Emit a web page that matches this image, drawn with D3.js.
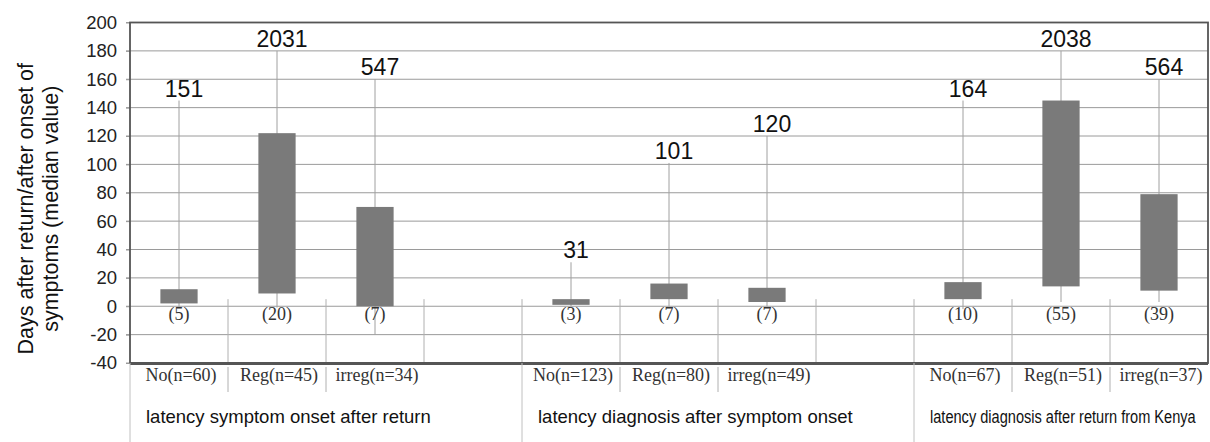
<!DOCTYPE html>
<html>
<head>
<meta charset="utf-8">
<script src="https://cdn.jsdelivr.net/npm/d3@7"></script>
<style>
  body { margin: 0; background: #fff; }
  svg { display: block; }
</style>
</head>
<body>
<div id="chart"></div>
<script>
// groups of the x axis
const groups = ["latency symptom onset after return", "latency diagnosis after symptom onset", "latency diagnosis after return from Kenya"];
const categories = [
    ["No(n=60)", "Reg(n=45)", "irreg(n=34)"],
    ["No(n=123)", "Reg(n=80)", "irreg(n=49)"],
    ["No(n=67)", "Reg(n=51)", "irreg(n=37)"]
];
// box = interquartile range, in days
const boxLow = [2, 9, 0, 1, 5, 3, 5, 14, 11];
const boxHigh = [12, 122, 70, 5, 16, 13, 17, 145, 79];
// whisker as drawn (clipped to the axis) and the real maximum written on top
const whiskerTop = [145, 180, 160, 31, 101, 120, 145, 180, 160];
const whiskerBottom = [-1, -1, -20, 0, 0, 0, -2, 3, 3];
const maxValues = [151, 2031, 547, 31, 101, 120, 164, 2038, 564];
const medians = [5, 20, 7, 3, 7, 7, 10, 55, 39];
const yTicks = [-40, -20, 0, 20, 40, 60, 80, 100, 120, 140, 160, 180, 200];

const width = 1210, height = 442;
const margin = { top: 22.5, right: 2, bottom: 79, left: 130 };

const svg = d3.select('#chart').append('svg')
    .attr('width', width)
    .attr('height', height);

// 11 slots: 3 bars, one empty slot, 3 bars, one empty slot, 3 bars
const x = d3.scaleBand()
    .domain(d3.range(11))
    .range([margin.left, width - margin.right]);
const y = d3.scaleLinear()
    .domain([-40, 200])
    .range([height - margin.bottom, margin.top]);

const slotOf = (g, i) => g * 4 + i;
const sans = "'Liberation Sans', Arial, sans-serif";
const serif = "'Liberation Serif', 'Times New Roman', serif";

// grid
svg.append('g')
    .selectAll('line')
    .data(yTicks)
    .enter()
    .append('line')
    .attr('x1', margin.left - 4)
    .attr('x2', width - margin.right)
    .attr('y1', d => y(d))
    .attr('y2', d => y(d))
    .attr('stroke', '#9a9a9a')
    .attr('stroke-width', 1);

// y axis labels (plain hyphen for negatives, like the original)
const yAxis = svg.append('g')
    .attr('transform', `translate(${margin.left},0)`)
    .call(d3.axisLeft(y).tickValues(yTicks).tickSize(4).tickPadding(9).tickFormat(d => String(d)));
yAxis.select('.domain').remove();
yAxis.selectAll('.tick line').attr('stroke', '#9a9a9a');
yAxis.selectAll('text')
    .style('font-family', sans)
    .style('font-size', '18.5px')
    .attr('fill', '#222');

// small separators inside the plot, between slots
svg.append('g')
    .selectAll('line')
    .data(d3.range(1, 11))
    .enter()
    .append('line')
    .attr('x1', d => x(d))
    .attr('x2', d => x(d))
    .attr('y1', y(5))
    .attr('y2', y(-40))
    .attr('stroke', '#b0b0b0')
    .attr('stroke-width', 1);

// flatten the boxes
const boxes = [];
categories.forEach((cats, g) => {
    cats.forEach((c, i) => {
        const k = g * 3 + i;
        boxes.push({
            slot: slotOf(g, i), label: c,
            low: boxLow[k], high: boxHigh[k],
            wTop: whiskerTop[k], wBottom: whiskerBottom[k],
            max: maxValues[k], median: medians[k]
        });
    });
});

const cx = d => x(d.slot) + x.bandwidth() / 2;
const barW = x.bandwidth() * 0.38;

// whiskers
svg.append('g')
    .selectAll('line')
    .data(boxes)
    .enter()
    .append('line')
    .attr('x1', cx)
    .attr('x2', cx)
    .attr('y1', d => y(d.wTop))
    .attr('y2', d => y(d.wBottom))
    .attr('stroke', '#a0a0a0')
    .attr('stroke-width', 1);

// boxes
svg.append('g')
    .selectAll('rect')
    .data(boxes)
    .enter()
    .append('rect')
    .attr('x', d => cx(d) - barW / 2)
    .attr('width', barW)
    .attr('y', d => y(d.high))
    .attr('height', d => y(d.low) - y(d.high))
    .attr('fill', '#7a7a7a');

// max values on top of whiskers
svg.append('g')
    .selectAll('text')
    .data(boxes)
    .enter()
    .append('text')
    .attr('x', d => cx(d) + 5)
    .attr('y', d => y(d.wTop) - 4)
    .attr('text-anchor', 'middle')
    .style('font-family', sans)
    .style('font-size', '23px')
    .attr('fill', '#111')
    .text(d => d.max);

// medians under the boxes
svg.append('g')
    .selectAll('text')
    .data(boxes)
    .enter()
    .append('text')
    .attr('x', cx)
    .attr('y', y(-10))
    .attr('text-anchor', 'middle')
    .style('font-family', serif)
    .style('font-size', '18px')
    .attr('fill', '#333')
    .text(d => `(${d.median})`);

// frame
svg.append('rect')
    .attr('x', margin.left)
    .attr('y', margin.top)
    .attr('width', width - margin.right - margin.left)
    .attr('height', y(-40) - margin.top)
    .attr('fill', 'none')
    .attr('stroke', '#555')
    .attr('stroke-width', 1.8);
svg.append('line')
    .attr('x1', margin.left)
    .attr('x2', width - margin.right)
    .attr('y1', y(-40) + 0.5)
    .attr('y2', y(-40) + 0.5)
    .attr('stroke', '#555')
    .attr('stroke-width', 3);

// category labels
svg.append('g')
    .selectAll('text')
    .data(boxes)
    .enter()
    .append('text')
    .attr('x', d => cx(d) + 2)
    .attr('y', y(-40) + 18)
    .attr('text-anchor', 'middle')
    .style('font-family', serif)
    .style('font-size', '18px')
    .attr('fill', '#333')
    .text(d => d.label);

// dividers under the axis: short between categories, long between groups
const shortTicks = [];
categories.forEach((cats, g) => {
    for (let i = 1; i < cats.length; i++) shortTicks.push(slotOf(g, i));
});
svg.append('g')
    .selectAll('line')
    .data(shortTicks)
    .enter()
    .append('line')
    .attr('x1', d => x(d))
    .attr('x2', d => x(d))
    .attr('y1', y(-40) + 4)
    .attr('y2', y(-40) + 29)
    .attr('stroke', '#b0b0b0');

svg.append('g')
    .selectAll('line')
    .data(groups)
    .enter()
    .append('line')
    .attr('x1', (d, g) => x(slotOf(g, 0)))
    .attr('x2', (d, g) => x(slotOf(g, 0)))
    .attr('y1', y(-40))
    .attr('y2', height)
    .attr('stroke', '#c0c0c0');

// group labels; the last one is printed condensed in the original
const groupWidth = [null, null, 266];
svg.append('g')
    .selectAll('text')
    .data(groups)
    .enter()
    .append('text')
    .attr('x', 0)
    .attr('y', 0)
    .style('font-family', sans)
    .style('font-size', '18.5px')
    .attr('fill', '#111')
    .text(d => d)
    .each(function (d, g) {
        const x0 = x(slotOf(g, 0)) + 16;
        let sx = 1;
        if (groupWidth[g]) sx = groupWidth[g] / this.getComputedTextLength();
        d3.select(this).attr('transform', `translate(${x0},${height - 19}) scale(${sx},1)`);
    });

// y axis title
const title = svg.append('text')
    .attr('transform', `translate(33,${(margin.top + y(-40)) / 2 + 16}) rotate(-90)`)
    .attr('text-anchor', 'middle')
    .style('font-family', sans)
    .style('font-size', '21.5px')
    .attr('fill', '#111');
title.append('tspan').attr('x', 0).attr('y', 0).text('Days after return/after onset of');
title.append('tspan').attr('x', 0).attr('y', 25).text('symptoms (median value)');
</script>
</body>
</html>
